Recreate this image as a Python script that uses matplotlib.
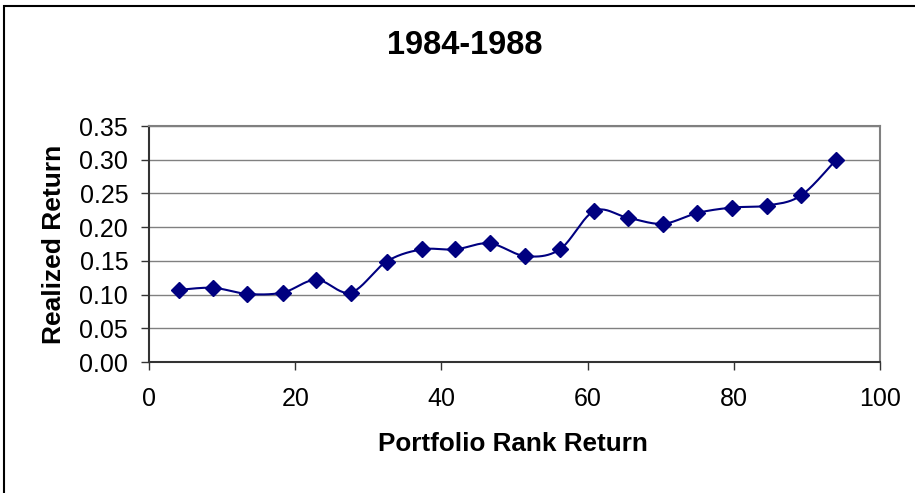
import matplotlib
matplotlib.use('Agg')
import matplotlib.pyplot as plt
from matplotlib.patches import Rectangle
import numpy as np

plt.rcParams['font.family'] = ['Liberation Sans', 'DejaVu Sans']

# data
rank = [4.1, 8.8, 13.4, 18.3, 22.9, 27.6, 32.5, 37.3, 41.9, 46.6,
        51.5, 56.2, 60.9, 65.5, 70.3, 75.0, 79.7, 84.6, 89.2, 94.0]
realized = [0.107, 0.110, 0.101, 0.103, 0.122, 0.103, 0.149, 0.167, 0.167, 0.176,
            0.157, 0.167, 0.224, 0.214, 0.205, 0.221, 0.229, 0.232, 0.247, 0.300]
title = '1984-1988'
x_ticks = [0, 20, 40, 60, 80, 100]
y_ticks = [0.00, 0.05, 0.10, 0.15, 0.20, 0.25, 0.30, 0.35]

NAVY = '#000080'
GRID = '#808080'


def smooth(xs, ys, steps=24):
    # Excel-style smoothed line: Catmull-Rom through every point
    xs = np.asarray(xs, float)
    ys = np.asarray(ys, float)
    px = np.concatenate([[xs[0]], xs, [xs[-1]]])
    py = np.concatenate([[ys[0]], ys, [ys[-1]]])
    t = np.linspace(0, 1, steps)
    outx, outy = [], []
    for k in range(1, len(px) - 2):
        p0, p1, p2, p3 = px[k-1], px[k], px[k+1], px[k+2]
        q0, q1, q2, q3 = py[k-1], py[k], py[k+1], py[k+2]
        c1x, c1y = p1 + (p2 - p0) / 6, q1 + (q2 - q0) / 6
        c2x, c2y = p2 - (p3 - p1) / 6, q2 - (q3 - q1) / 6
        b = [(1-t)**3, 3*(1-t)**2*t, 3*(1-t)*t**2, t**3]
        outx.extend(b[0]*p1 + b[1]*c1x + b[2]*c2x + b[3]*p2)
        outy.extend(b[0]*q1 + b[1]*c1y + b[2]*c2y + b[3]*q2)
    return outx, outy


W, H = 915, 493
fig = plt.figure(figsize=(W/100, H/100), dpi=100)
ax = fig.add_axes([149/W, 1 - 362/H, (880-149)/W, (362-126)/H])

# outer chart border
fig.patches.append(Rectangle((4/W, -0.1), 1.2, 1 - 6/H + 0.1, transform=fig.transFigure,
                             fill=False, edgecolor='black', linewidth=1.5))

sx, sy = smooth(rank, realized)
ax.plot(sx, sy, color=NAVY, linewidth=1.5, zorder=3)
ax.plot(rank, realized, linestyle='none', marker='D', markersize=8.5,
        color=NAVY, zorder=4)

ax.set_xlim(0, 100)
ax.set_ylim(0, 0.35)
ax.set_xticks(x_ticks)
ax.set_yticks(y_ticks)
ax.set_yticklabels([f'{v:.2f}' for v in y_ticks])
ax.tick_params(axis='both', labelsize=18, length=6, width=1, color='#333333')
ax.tick_params(axis='y', pad=9)
ax.tick_params(axis='x', pad=12)
ax.grid(axis='y', color=GRID, linewidth=1)
ax.set_axisbelow(True)
for s in ('top', 'right'):
    ax.spines[s].set_color(GRID)
    ax.spines[s].set_linewidth(1.5)
for s in ('left', 'bottom'):
    ax.spines[s].set_color('#333333')
    ax.spines[s].set_linewidth(1.5)

fig.text(465/W, 1 - 46/H, title, ha='center', va='center', fontsize=23.5, weight='bold')
fig.text(513/W, 1 - 444/H, 'Portfolio Rank Return', ha='center', va='center',
         fontsize=18.8, weight='bold')
fig.text(54/W, 1 - 244/H, 'Realized Return', ha='center', va='center',
         rotation=90, fontsize=19, weight='bold')

fig.savefig('out.png', dpi=100, facecolor='white')
